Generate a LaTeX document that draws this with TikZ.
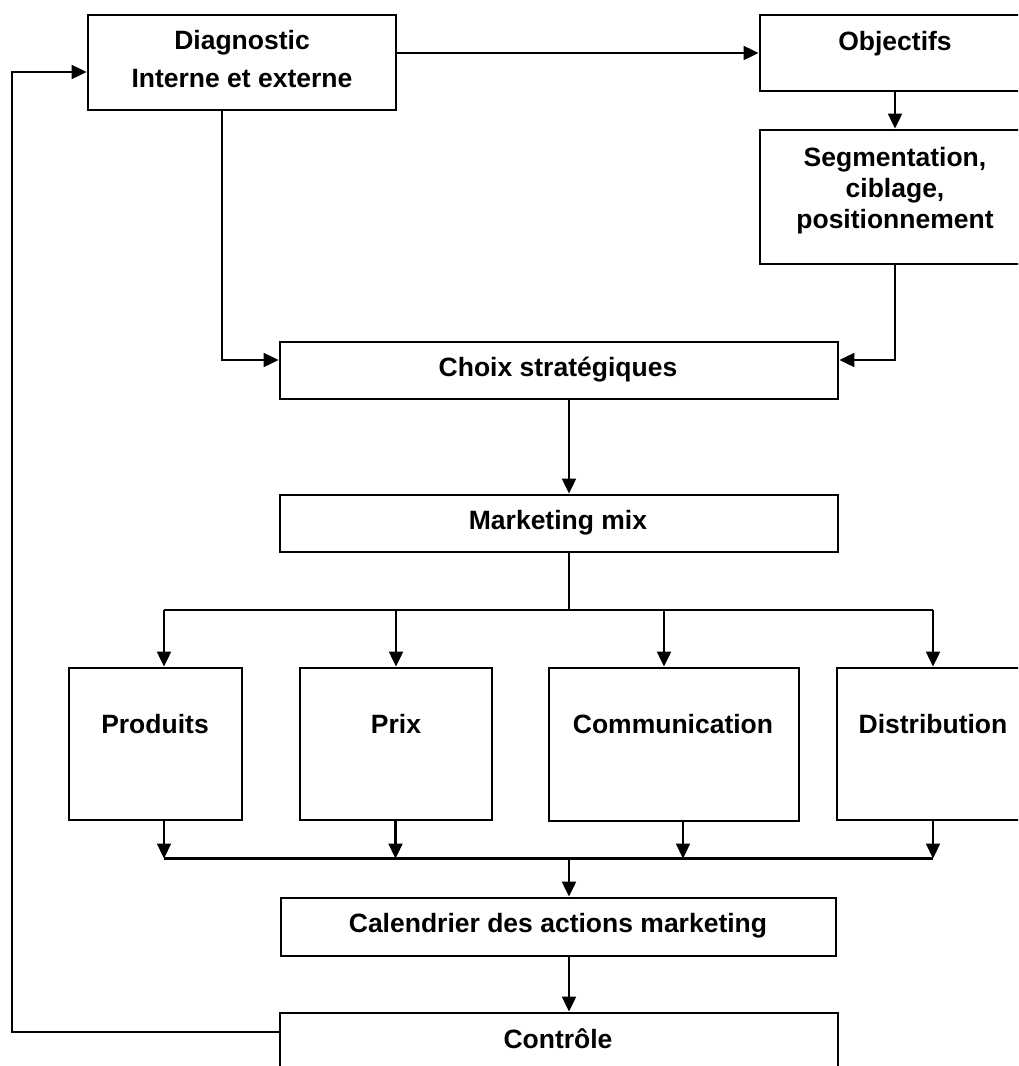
\documentclass[tikz,border=0pt]{standalone}
\usepackage{fontspec}
\setmainfont{Liberation Sans}
\usetikzlibrary{arrows.meta}
\begin{document}
\begin{tikzpicture}[x=1pt,y=-1pt,
  box/.style={draw, line width=2.9pt, inner sep=0pt},
  lbl/.style={font=\bfseries\fontsize{26.5}{31}\selectfont, inner sep=0pt, anchor=base, align=center},
  con/.style={line width=2.2pt},
  arr/.style={con, -{Triangle[length=15pt,width=14pt]}}]
\useasboundingbox (0,0) rectangle (1018,1066);
\clip (0,0) rectangle (1018,1066);
% boxes
\node[box, minimum width=308, minimum height=95] (diag) at (242,62.5) {};
\node[box, minimum width=270, minimum height=76] (obj) at (895,53) {};
\node[box, minimum width=270, minimum height=134] (seg) at (895,197) {};
\node[box, minimum width=558, minimum height=57] (choix) at (559,370.5) {};
\node[box, minimum width=558, minimum height=57] (mix) at (559,523.5) {};
\node[box, minimum width=173, minimum height=152] (prod) at (155.5,744) {};
\node[box, minimum width=192, minimum height=152] (prix) at (396,744) {};
\node[box, minimum width=250, minimum height=153] (comm) at (674,744.5) {};
\node[box, minimum width=193, minimum height=152] (dist) at (933.5,744) {};
\node[box, minimum width=555, minimum height=58] (cal) at (558.5,927) {};
\node[box, minimum width=558, minimum height=77] (ctrl) at (559,1051.5) {};
% texts (multi-line: base = last line)
\node[lbl] (diagT) at (242,87) {Diagnostic\\[6.5pt]Interne et externe};
\node[lbl] (objT) at (895,50) {Objectifs};
\node[lbl] (segT) at (895,228) {Segmentation,\\ciblage,\\positionnement};
\node[lbl] (choixT) at (558,376) {Choix stratégiques};
\node[lbl] (mixT) at (558,529) {Marketing mix};
\node[lbl] (prodT) at (155,733) {Produits};
\node[lbl] (prixT) at (396,733) {Prix};
\node[lbl] (commT) at (673,733) {Communication};
\node[lbl] (distT) at (933,733) {Distribution};
\node[lbl] (calT) at (558,932) {Calendrier des actions marketing};
\node[lbl] (ctrlT) at (558,1048) {Contrôle};
% connectors
\draw[arr] (diag.east |- obj.west) -- (obj.west);
\draw[arr] (obj.south) -- (seg.north);
\draw[arr] (seg.south) |- ([yshift=10.5pt]choix.east);
\draw[arr] ([xshift=-20pt]diag.south) |- ([yshift=10.5pt]choix.west);
\draw[arr] ([xshift=10pt]choix.south) -- ([xshift=10pt]mix.north);
\coordinate (br) at (569,610);
\coordinate (pt) at ([xshift=8.5pt]prod.north);
\coordinate (ct) at ([xshift=-10pt]comm.north);
\coordinate (dt) at ([xshift=-0.5pt]dist.north);
\draw[con] ([xshift=10pt]mix.south) -- (br);
\draw[con] (pt |- br) -- (dt |- br);
\draw[arr] (pt |- br) -- (pt);
\draw[arr] (prix.north |- br) -- (prix.north);
\draw[arr] (ct |- br) -- (ct);
\draw[arr] (dt |- br) -- (dt);
\coordinate (jn) at (569,858.5);
\coordinate (pb) at ([xshift=8.5pt]prod.south);
\coordinate (xb) at ([xshift=-0.5pt]prix.south);
\coordinate (cb) at ([xshift=9pt]comm.south);
\coordinate (db) at ([xshift=-0.5pt]dist.south);
\draw[con] (pb |- jn) -- (db |- jn);
\draw[arr] (pb) -- (pb |- jn);
\draw[arr] (xb) -- (xb |- jn);
\draw[arr] (cb) -- (cb |- jn);
\draw[arr] (db) -- (db |- jn);
\draw[arr] (jn) -- (jn |- cal.north);
\draw[arr] ([xshift=10.5pt]cal.south) -- ([xshift=10.5pt]cal.south |- ctrl.north);
\coordinate (fb1) at (12,1032);
\coordinate (fb2) at (12,72);
\draw[arr] ([yshift=19.5pt]ctrl.west) -- (fb1) -- (fb2) -- ([yshift=-9.5pt]diag.west);
\end{tikzpicture}
\end{document}
